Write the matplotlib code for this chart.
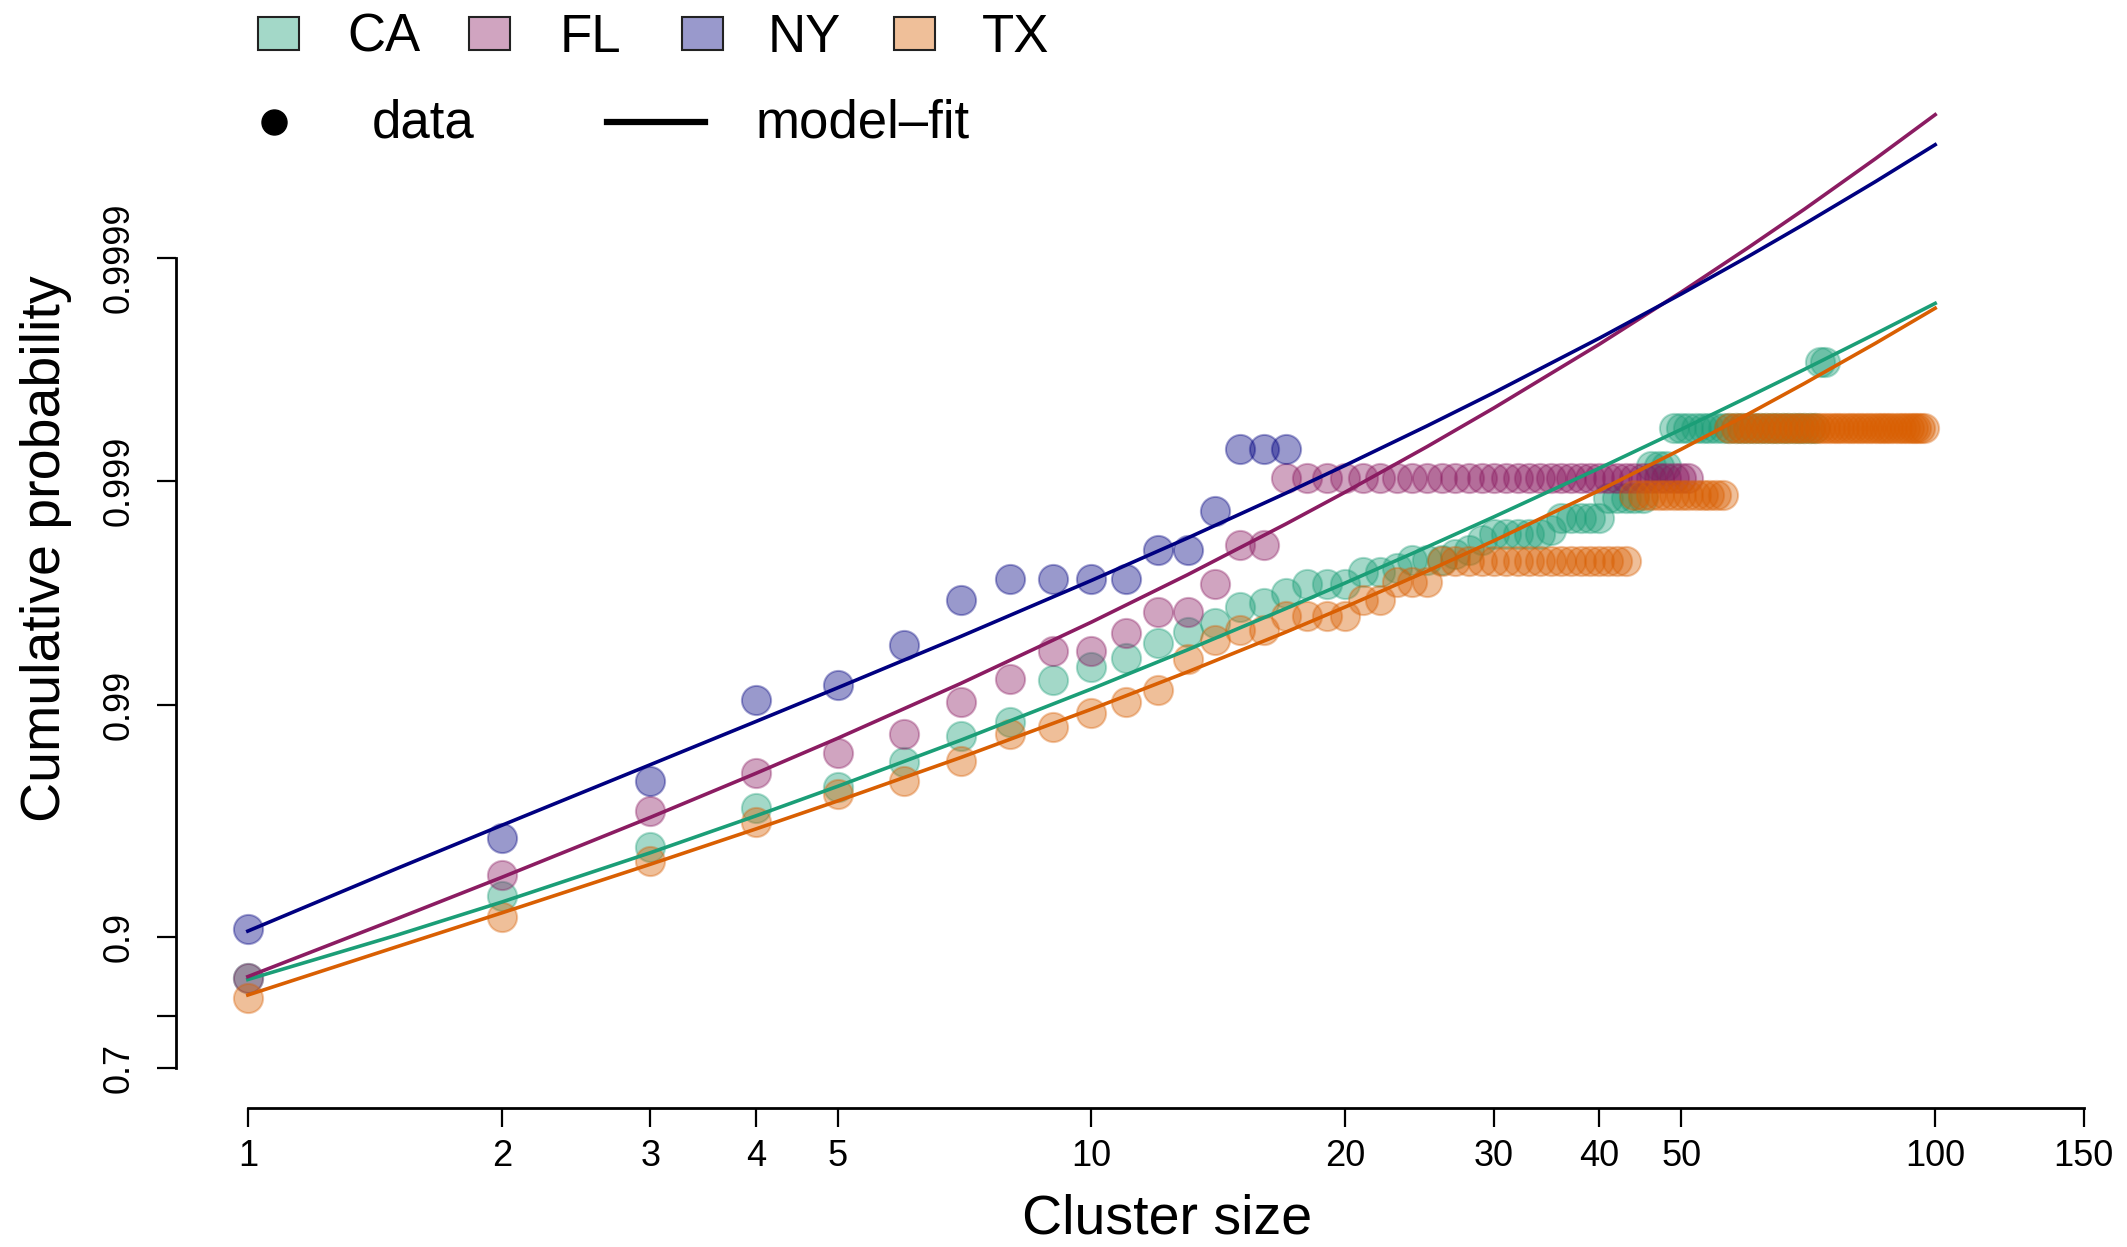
import numpy as np
import matplotlib
matplotlib.use("Agg")
import matplotlib.pyplot as plt
from matplotlib.colors import to_rgba
from matplotlib.patches import Rectangle
from matplotlib.lines import Line2D
from matplotlib.ticker import NullLocator

plt.rcParams['font.family'] = ['Liberation Sans', 'DejaVu Sans']

W, H = 2127, 1247

states = ["CA", "FL", "NY", "TX"]
colors = {"CA": "#1B9E77", "FL": "#8B1C62", "NY": "#000080", "TX": "#D95F02"}

# empirical CDF, written as steps: (first cluster size of the step, cumulative probability)
ca_steps = [(1, 0.8552), (2, 0.9322), (3, 0.9581), (4, 0.97153), (5, 0.97702), (6, 0.98219),
            (7, 0.98621), (8, 0.98811), (9, 0.99223), (10, 0.99324), (11, 0.99382), (12, 0.99468),
            (13, 0.99527), (14, 0.99568), (15, 0.99632), (16, 0.99649), (17, 0.99683), (18, 0.9971),
            (21, 0.99745), (23, 0.99755), (24, 0.99774), (27, 0.99787), (28, 0.99797), (29, 0.99817),
            (30, 0.99827), (35, 0.99834), (36, 0.99853), (41, 0.99881), (46, 0.999142),
            (49, 0.999419), (73, 0.999708)]
ca_last = 74

fl_steps = [(1, 0.8552), (2, 0.9448), (3, 0.9707), (4, 0.97996), (5, 0.9837), (6, 0.98661),
            (7, 0.99034), (8, 0.99231), (9, 0.99423), (11, 0.99523), (12, 0.99613), (14, 0.9971),
            (15, 0.99807), (17, 0.999033)]
fl_last = 51

ny_steps = [(1, 0.9072), (2, 0.9616), (3, 0.97833), (4, 0.99053), (5, 0.99184), (6, 0.99457),
            (7, 0.9966), (8, 0.99724), (12, 0.99797), (14, 0.99863), (15, 0.999283)]
ny_last = 17

tx_steps = [(1, 0.8278), (2, 0.9176), (3, 0.9517), (4, 0.9674), (5, 0.9754), (6, 0.97833),
            (7, 0.98236), (8, 0.98661), (9, 0.98751), (10, 0.98912), (11, 0.99034), (12, 0.99142),
            (13, 0.99376), (14, 0.99488), (15, 0.99537), (17, 0.99597), (21, 0.9966), (23, 0.99718),
            (26, 0.99772), (44, 0.998842), (57, 0.999419)]
tx_last = 97

# model fit curves read at these cluster sizes
fit_sizes = [1, 1.5, 2, 3, 4, 5, 7, 10, 13, 17, 20, 25, 30, 40, 50, 60, 70, 85, 100]
ca_fit = [0.8532, 0.901768, 0.928243, 0.955595, 0.969201, 0.977112, 0.985671, 0.9915074,
          0.9943137, 0.9962789, 0.9971427, 0.9980266, 0.9985533, 0.99912376, 0.99941247,
          0.99957923, 0.99968386, 0.99978117, 0.99983997]
fl_fit = [0.85692, 0.915754, 0.94348, 0.96875, 0.979925, 0.985936, 0.9919737, 0.9957221,
          0.9973723, 0.9984423, 0.9988797, 0.99929878, 0.99952939, 0.99975622, 0.9998575,
          0.99990985, 0.99993951, 0.99996411, 0.99997718]
ny_fit = [0.90551, 0.94804, 0.96617, 0.981621, 0.988145, 0.9916, 0.995043, 0.997213,
          0.9981997, 0.9988661, 0.99914965, 0.9994338, 0.99959814, 0.99977087, 0.99985476,
          0.99990127, 0.99992951, 0.99995451, 0.99996889]
tx_fit = [0.83202, 0.89061, 0.920414, 0.950264, 0.964906, 0.97348, 0.98291, 0.989554,
          0.9928679, 0.9952602, 0.9963414, 0.9974675, 0.9981487, 0.9988974, 0.99927889,
          0.99949779, 0.99963454, 0.99975865, 0.99983177]

x_ticks = [1, 2, 3, 4, 5, 10, 20, 30, 40, 50, 100, 150]
y_ticks = [0.7, 0.8, 0.9, 0.99, 0.999, 0.9999]
y_labels = ["0.7", "", "0.9", "0.99", "0.999", "0.9999"]

steps = {"CA": (ca_steps, ca_last), "FL": (fl_steps, fl_last),
         "NY": (ny_steps, ny_last), "TX": (tx_steps, tx_last)}
fits = {"CA": ca_fit, "FL": fl_fit, "NY": ny_fit, "TX": tx_fit}


def expand(st, last):
    sizes = np.arange(1, last + 1)
    starts = np.array([s for s, _ in st])
    probs = np.array([p for _, p in st])
    idx = np.searchsorted(starts, sizes, side="right") - 1
    return sizes, probs[idx]


fig = plt.figure(figsize=(W / 100, H / 100), dpi=100)
ax = fig.add_axes([176 / W, (H - 1108) / H, 1982 / W, 1118 / H])
ax.set_xscale("log")
ax.set_yscale("logit")

for s in states:
    xs, ps = expand(*steps[s])
    ax.plot(xs, ps, "o", ms=21, mfc=to_rgba(colors[s], 0.4), mec=to_rgba(colors[s], 0.35),
            mew=1.5, ls="none", zorder=2, clip_on=False)

for s in states:
    ax.plot(fit_sizes, fits[s], color=colors[s], lw=2.6, zorder=3, clip_on=False)

ax.set_xlim(0.822, 183.7)
ax.set_ylim(0.6068, 0.9999937)

for side in ["top", "right"]:
    ax.spines[side].set_visible(False)
ax.spines["left"].set_bounds(0.7, 0.9999)
ax.spines["bottom"].set_bounds(1, 150)
ax.spines["left"].set_linewidth(2)
ax.spines["bottom"].set_linewidth(2)

ax.set_xticks(x_ticks)
ax.set_xticklabels([str(t) for t in x_ticks])
ax.set_yticks(y_ticks)
ax.set_yticklabels(y_labels, rotation=90, va="center")
ax.xaxis.set_minor_locator(NullLocator())
ax.yaxis.set_minor_locator(NullLocator())
ax.tick_params(axis="both", length=14, width=1.6, labelsize=26)
ax.tick_params(axis="x", pad=8)
ax.tick_params(axis="y", pad=14)

fig.text(1167 / W, 1 - 1234 / H, "Cluster size", fontsize=40, ha="center", va="baseline")
fig.text(60 / W, 1 - 549 / H, "Cumulative probability", fontsize=40, rotation=90,
         rotation_mode="anchor", ha="center", va="baseline")

# legend, first row: state boxes
box_x = [258, 469, 682, 894]
text_x = [347, 560, 768, 982]
for s, bx, tx in zip(states, box_x, text_x):
    fig.add_artist(Rectangle((bx / W, 1 - 50 / H), 41 / W, 33 / H, transform=fig.transFigure,
                             fc=to_rgba(colors[s], 0.4), ec="#222222", lw=1.5))
    fig.text(tx / W, 1 - 52 / H, s, fontsize=38, ha="left", va="baseline")

# legend, second row: marker types
fig.add_artist(Line2D([274 / W], [1 - 122 / H], marker="o", ms=18, color="black", ls="none",
                      transform=fig.transFigure))
fig.text(372 / W, 1 - 138 / H, "data", fontsize=38, ha="left", va="baseline")
fig.add_artist(Line2D([607 / W, 705 / W], [1 - 122 / H, 1 - 122 / H], color="black", lw=4.5,
                      transform=fig.transFigure))
fig.text(756 / W, 1 - 138 / H, "model\u2013fit", fontsize=38, ha="left", va="baseline")

fig.savefig("out.png", dpi=100)
